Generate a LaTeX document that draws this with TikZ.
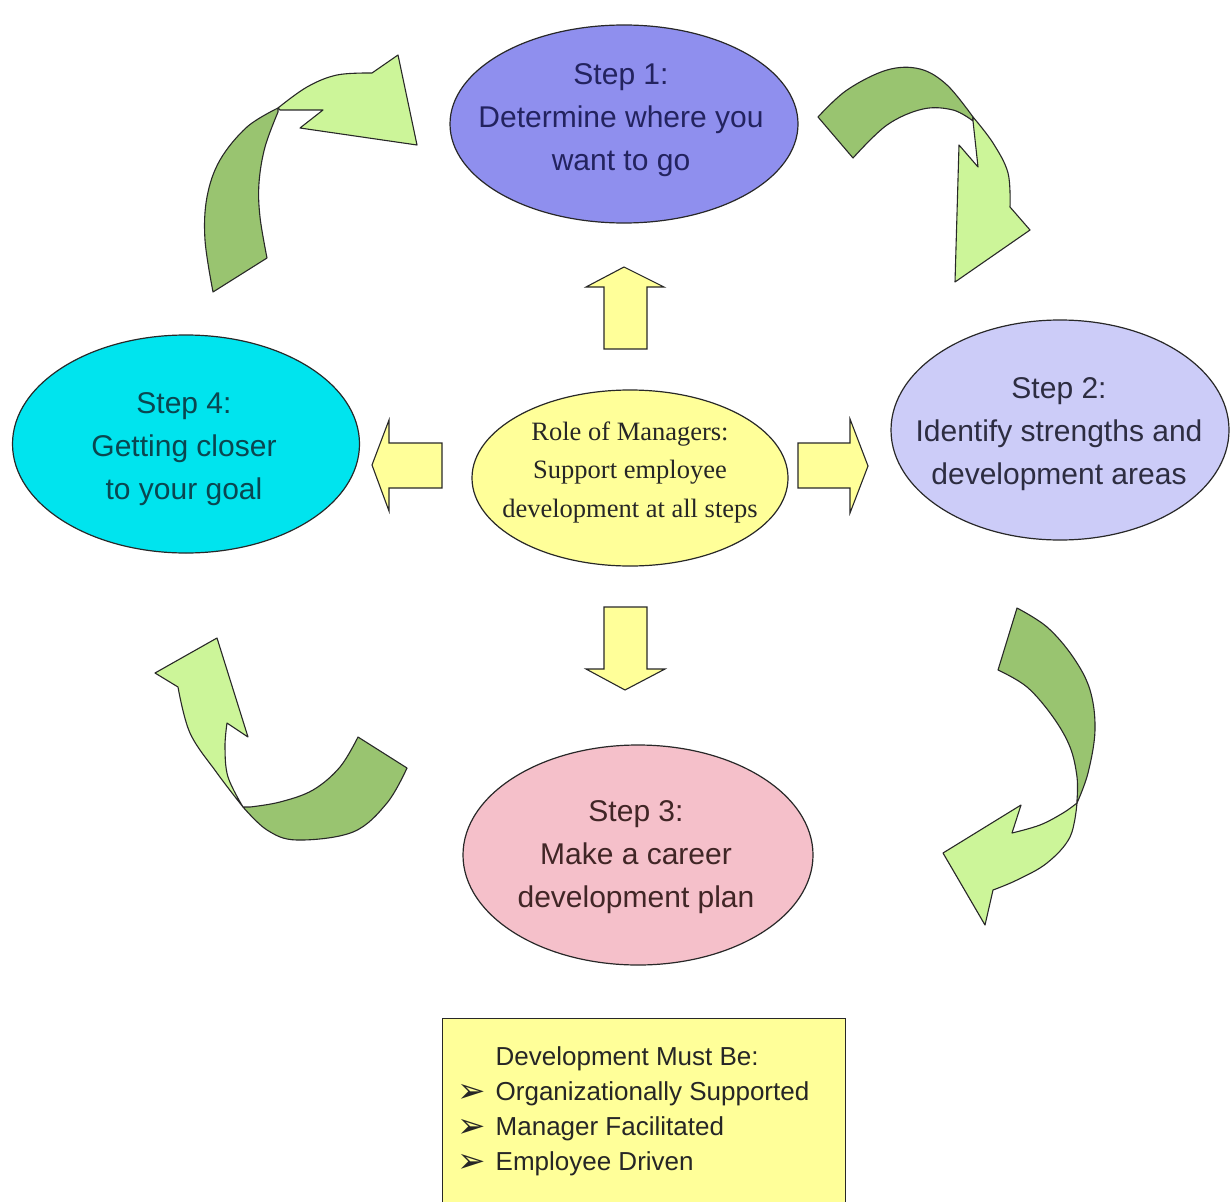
\documentclass[tikz,border=0pt]{standalone}
\usepackage{fontspec}
\setmainfont{Liberation Sans}
\newfontfamily\romanfont{Liberation Serif}
\newfontfamily\symfont{DejaVu Sans}
\usetikzlibrary{shapes.geometric}

\definecolor{stepA}{RGB}{143,143,238}
\definecolor{stepB}{RGB}{204,204,248}
\definecolor{stepC}{RGB}{245,192,202}
\definecolor{stepD}{RGB}{0,228,238}
\definecolor{inkA}{RGB}{35,35,95}
\definecolor{inkB}{RGB}{45,45,65}
\definecolor{inkC}{RGB}{65,38,38}
\definecolor{inkD}{RGB}{10,70,80}
\definecolor{paleyellow}{RGB}{255,255,153}
\definecolor{bandback}{RGB}{153,196,112}
\definecolor{bandfront}{RGB}{204,245,153}
\definecolor{inkline}{RGB}{40,40,40}

\begin{document}
\begin{tikzpicture}[x=1pt,y=-1pt,
  stepshape/.style={ellipse, draw=inkline, line width=1.2pt, inner sep=0pt},
  steptext/.style={align=center, inner sep=0pt, font=\fontsize{30}{43}\selectfont},
  hubtextstyle/.style={align=center, inner sep=0pt, text=black!85,
    font=\romanfont\fontsize{26.5}{38.5}\selectfont},
  blockarrow/.style={fill=paleyellow, draw=inkline, line width=1.1pt, line join=miter},
  backband/.style={fill=bandback, draw=inkline, line width=1.1pt, line join=round},
  frontband/.style={fill=bandfront, draw=inkline, line width=1.1pt, line join=round}]

\useasboundingbox (0,0) rectangle (1230,1201);
\fill[white] (0,0) rectangle (1230,1201);

% the four steps and the hub
\node[stepshape, fill=stepA, minimum width=348pt, minimum height=198pt] (s1) at (624,124) {};
\node[steptext, text=inkA] (s1text) at (621,120)
  {Step 1:\\Determine where you\\want to go};
\node[stepshape, fill=stepB, minimum width=338pt, minimum height=220pt] (s2) at (1060,430) {};
\node[steptext, text=inkB] (s2text) at (1059,434)
  {Step 2:\\Identify strengths and\\development areas};
\node[stepshape, fill=stepC, minimum width=350pt, minimum height=220pt] (s3) at (638,855) {};
\node[steptext, text=inkC] (s3text) at (636,857)
  {Step 3:\\Make a career\\development plan};
\node[stepshape, fill=stepD, minimum width=347pt, minimum height=218pt] (s4) at (186,444) {};
\node[steptext, text=inkD] (s4text) at (184,449)
  {Step 4:\\Getting closer\\to your goal};
\node[stepshape, fill=paleyellow, minimum width=316pt, minimum height=176pt] (hub) at (630,478) {};
\node[hubtextstyle] (hubtext) at (630,472)
  {Role of Managers:\\Support employee\\development at all steps};

% block arrows pointing out of the hub
\draw[blockarrow] (604,349) -- (604,287) -- (586,287) -- (624,267) -- (664,287)
  -- (647,287) -- (647,349) -- cycle;
\draw[blockarrow] (604,607) -- (604,669) -- (586,669) -- (625,690) -- (665,669)
  -- (647,669) -- (647,607) -- cycle;
\draw[blockarrow] (442,443) -- (389,443) -- (389,420) -- (372,465) -- (389,511)
  -- (389,488) -- (442,488) -- cycle;
\draw[blockarrow] (798,443) -- (850,443) -- (850,419) -- (868,466) -- (850,513)
  -- (850,488) -- (798,488) -- cycle;

% twisted ribbon arrows between the steps
% step 4 -> step 1
\draw[backband] (213,292) -- plot[smooth, tension=0.6] coordinates
  {(213,292) (205,240) (207,197) (220,160) (247,127) (278,108)}
  -- plot[smooth, tension=0.6] coordinates
  {(278,112) (265,147) (259,183) (260,217) (267,258)} -- cycle;
\draw[frontband] (278,108) -- plot[smooth, tension=0.6] coordinates
  {(278,108) (307,87) (337,75) (372,73)}
  -- (398,55) -- (417,145) -- (300,128) -- (323,110) -- (280,110) -- cycle;

% step 1 -> step 2
\draw[backband] (818,117) -- plot[smooth, tension=0.6] coordinates
  {(818,117) (847,90) (887,70) (920,69) (947,85) (973,117)}
  -- plot[smooth, tension=0.6] coordinates
  {(973,121) (953,110) (923,109) (887,125) (853,158)} -- cycle;
\draw[frontband] (973,117) -- plot[smooth, tension=0.6] coordinates
  {(973,117) (993,143) (1008,173) (1010,207)}
  -- (1030,230) -- (955,282) -- (959,145) -- (978,167) -- (973,121) -- cycle;

% step 2 -> step 3
\draw[backband] (1017,608) -- plot[smooth, tension=0.6] coordinates
  {(1017,608) (1047,627) (1073,657) (1090,690) (1095,730) (1088,773) (1077,803)}
  -- plot[smooth, tension=0.6] coordinates
  {(1077,800) (1077,777) (1070,747) (1053,717) (1027,687) (998,670)} -- cycle;
\draw[frontband] (1077,803) -- plot[smooth, tension=0.6] coordinates
  {(1077,803) (1070,837) (1047,863) (1017,880) (993,890)}
  -- (985,925) -- (943,853) -- (1021,805) -- (1012,833)
  -- plot[smooth, tension=0.6] coordinates {(1012,833) (1040,825) (1063,813) (1077,803)} -- cycle;

% step 3 -> step 4
\draw[backband] (407,768) -- plot[smooth, tension=0.6] coordinates
  {(407,768) (387,803) (353,832) (297,840) (267,830) (243,807)}
  -- plot[smooth, tension=0.6] coordinates
  {(250,807) (280,802) (313,790) (340,767) (358,737)} -- cycle;
\draw[frontband] (243,807) -- plot[smooth, tension=0.6] coordinates
  {(243,807) (217,773) (190,733) (178,687)}
  -- (155,673) -- (217,638) -- (248,737) -- (227,723)
  -- plot[smooth, tension=0.6] coordinates {(227,723) (225,747) (228,777) (243,807)} -- cycle;

% summary box
\node[draw=inkline, line width=1.2pt, fill=paleyellow, minimum width=403pt,
  minimum height=200pt, anchor=north west, inner sep=0pt] (summary) at (442,1018) {};
\node[anchor=north west, inner sep=0pt, align=left, text=black!85,
  font=\fontsize{26}{35}\selectfont] (summarytext) at (457,1041)
  {\begin{tabular}{@{}l@{\hspace{10pt}}l@{}}
   & Development Must Be:\\
   {\symfont\fontsize{34}{35}\selectfont\raisebox{-2pt}{➢}} & Organizationally Supported\\
   {\symfont\fontsize{34}{35}\selectfont\raisebox{-2pt}{➢}} & Manager Facilitated\\
   {\symfont\fontsize{34}{35}\selectfont\raisebox{-2pt}{➢}} & Employee Driven
   \end{tabular}};
\end{tikzpicture}
\end{document}
